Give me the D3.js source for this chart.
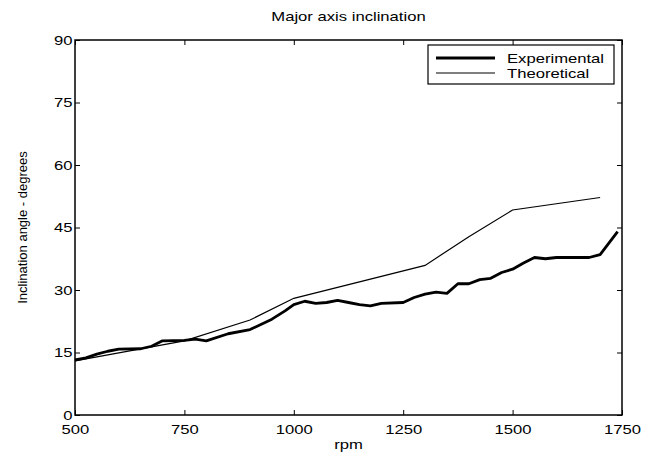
<!DOCTYPE html>
<html>
<head>
<meta charset="utf-8">
<script src="https://cdn.jsdelivr.net/npm/d3@7"></script>
<style>
  html, body { margin: 0; padding: 0; background: #fff; }
  svg { display: block; font-family: "Liberation Sans", Arial, Helvetica, sans-serif; }
</style>
</head>
<body>
<svg id="chart" width="650" height="453"></svg>
<script>
// Measured inclination of the major axis versus shaft speed
const expRpm = [500, 525, 550, 575, 600, 650, 675, 700, 750, 775, 800, 850, 900, 950, 980, 1000,
  1025, 1050, 1075, 1100, 1125, 1150, 1175, 1200, 1250, 1275, 1300, 1325, 1350, 1375, 1400,
  1425, 1450, 1475, 1500, 1525, 1550, 1575, 1600, 1650, 1675, 1700, 1740];
const expDeg = [13.2, 13.7, 14.6, 15.3, 15.8, 15.9, 16.5, 17.8, 17.9, 18.2, 17.8, 19.5, 20.5, 23, 25, 26.5,
  27.3, 26.8, 27, 27.5, 27, 26.5, 26.2, 26.8, 27, 28.2, 29, 29.5, 29.2, 31.5, 31.5,
  32.5, 32.8, 34.2, 35, 36.5, 37.8, 37.5, 37.8, 37.8, 37.8, 38.5, 44];

// Predicted inclination
const theoRpm = [500, 750, 900, 1000, 1300, 1400, 1500, 1700];
const theoDeg = [13, 17.8, 22.8, 28, 35.9, 42.8, 49.2, 52.2];

const xTicks = [500, 750, 1000, 1250, 1500, 1750];
const yTicks = [0, 15, 30, 45, 60, 75, 90];
const seriesNames = ["Experimental", "Theoretical"];

const svg = d3.select("#chart");
const plotL = 75, plotR = 622, plotT = 40, plotB = 415;
const stretch = 1.28;   // wide-set lettering
const fontSize = 13;

const x = d3.scaleLinear().domain([500, 1750]).range([plotL, plotR]);
const y = d3.scaleLinear().domain([0, 90]).range([plotB, plotT]);

// Text placed at (px, py), widened horizontally
function label(parent, px, py, str, anchor, rotate) {
  return parent.append("text")
    .attr("transform", rotate
      ? `translate(${px},${py}) rotate(-90)`
      : `translate(${px},${py}) scale(${stretch},1)`)
    .attr("text-anchor", anchor || "start")
    .style("font-size", fontSize + "px")
    .attr("fill", "#000")
    .text(str);
}

// Curves
const line = d3.line().x(d => x(d[0])).y(d => y(d[1]));
svg.append("path")
  .datum(theoRpm.map((r, i) => [r, theoDeg[i]]))
  .attr("d", line).attr("fill", "none").attr("stroke", "#000").attr("stroke-width", 1.2);
svg.append("path")
  .datum(expRpm.map((r, i) => [r, expDeg[i]]))
  .attr("d", line).attr("fill", "none").attr("stroke", "#000").attr("stroke-width", 2.8)
  .attr("stroke-linejoin", "round");

// Axes with inward ticks on all four sides
const bottomAxis = d3.axisBottom(x).tickValues(xTicks).tickSize(-5).tickPadding(10).tickFormat(d3.format("d"));
const leftAxis = d3.axisLeft(y).tickValues(yTicks).tickSize(-5).tickPadding(2).tickFormat(d3.format("d"));
const topAxis = d3.axisTop(x).tickValues(xTicks).tickSize(-5).tickFormat("");
const rightAxis = d3.axisRight(y).tickValues(yTicks).tickSize(-5).tickFormat("");

function style(g) {
  g.select(".domain").remove();
  g.selectAll(".tick line").attr("stroke", "#000").attr("stroke-width", 1);
  g.selectAll(".tick text").attr("fill", "#000").style("font-size", fontSize + "px")
    .style("font-family", "'Liberation Sans', Arial, sans-serif")
    .attr("transform", `scale(${stretch},1)`);
}
svg.append("g").attr("transform", `translate(0,${plotB})`).call(bottomAxis).call(style);
svg.append("g").attr("transform", `translate(${plotL},0)`).call(leftAxis).call(style);
svg.append("g").attr("transform", `translate(0,${plotT})`).call(topAxis).call(style);
svg.append("g").attr("transform", `translate(${plotR},0)`).call(rightAxis).call(style);

// Plot frame
svg.append("rect").attr("x", plotL).attr("y", plotT).attr("width", plotR - plotL).attr("height", plotB - plotT)
  .attr("fill", "none").attr("stroke", "#000").attr("stroke-width", 1.5);

// Titles
label(svg, (plotL + plotR) / 2, 21, "Major axis inclination", "middle");
label(svg, (plotL + plotR) / 2, 449, "rpm", "middle");
label(svg, 27, (plotT + plotB) / 2, "Inclination angle - degrees", "middle", true);

// Legend
const lg = svg.append("g").attr("transform", "translate(428,45)");
lg.append("rect").attr("width", 186).attr("height", 39).attr("fill", "#fff")
  .attr("stroke", "#000").attr("stroke-width", 1.2);
const widths = [2.8, 1.2];
seriesNames.forEach((name, i) => {
  const yy = 13 + i * 15;
  lg.append("line").attr("x1", 8).attr("x2", 67).attr("y1", yy).attr("y2", yy)
    .attr("stroke", "#000").attr("stroke-width", widths[i]);
  label(lg, 79, yy + 5, name, "start");
});
</script>
</body>
</html>
